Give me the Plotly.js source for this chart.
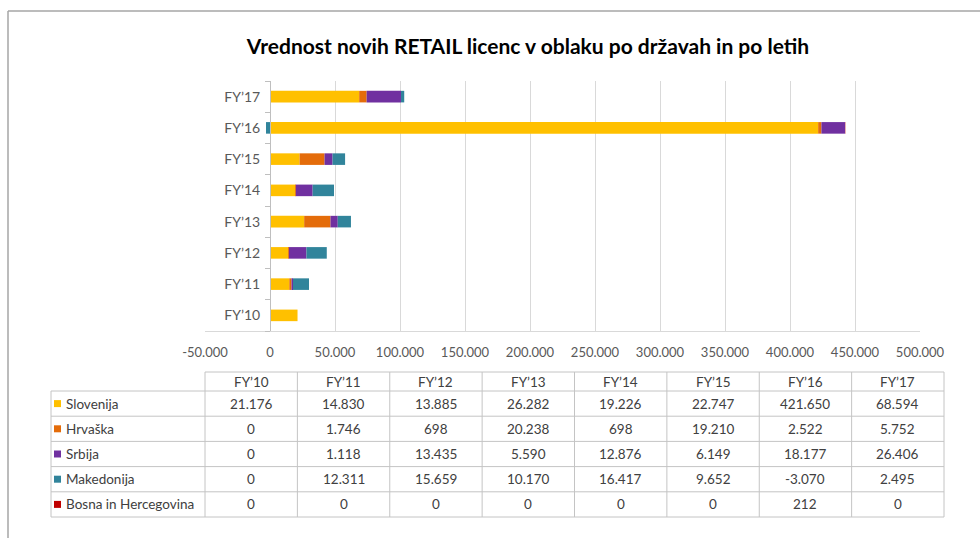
<!DOCTYPE html>
<html><head><meta charset="utf-8">
<script src="https://cdn.plot.ly/plotly-3.0.1.min.js"></script>
<style>html,body{margin:0;padding:0;background:#fff}#chart{width:980px;height:538px}</style>
</head><body><div id="chart"></div>
<script>
// ---- data ----
const categories = ["FY’10","FY’11","FY’12","FY’13","FY’14","FY’15","FY’16","FY’17"];
const seriesNames = ["Slovenija","Hrvaška","Srbija","Makedonija","Bosna in Hercegovina"];
const slovenija  = [21176,14830,13885,26282,19226,22747,421650,68594];
const hrvaska    = [0,1746,698,20238,698,19210,2522,5752];
const srbija     = [0,1118,13435,5590,12876,6149,18177,26406];
const makedonija = [0,12311,15659,10170,16417,9652,-3070,2495];
const bosna      = [0,0,0,0,0,0,212,0];
const xTickVals  = [-50000,0,50000,100000,150000,200000,250000,300000,350000,400000,450000,500000];
const xTickText  = ["-50.000","0","50.000","100.000","150.000","200.000","250.000","300.000","350.000","400.000","450.000","500.000"];
const titleText = "Vrednost novih RETAIL licenc v oblaku po državah in po letih";

// ---- styles ----
const seriesValues = [slovenija, hrvaska, srbija, makedonija, bosna];
const seriesColors = ["#FFC000","#E46C0A","#7030A0","#31849B","#C00000"];
const FONT = "Lato, 'Open Sans', sans-serif";
const TXT = "#404040";
const W = 980, H = 538;
const L = 205, R = 920, T = 81, B = 331;
const xMin = -50000, xMax = 500000;
const px = v => (v - L) / (R - L);
const py = v => (B - v) / (B - T);

function fmt(n){
  const s = Math.abs(n).toString().replace(/\B(?=(\d{3})+(?!\d))/g, ".");
  return (n < 0 ? "-" : "") + s;
}

const traces = seriesNames.map((name, i) => ({
  type: "bar", orientation: "h", name: name,
  y: categories, x: seriesValues[i],
  marker: {color: seriesColors[i], line: {width: 0}},
  hoverinfo: "x+name"
}));

// ---- data table (shapes + annotations) ----
const tLeft = 51, tFirst = 205, tRight = 944;
const colW = (tRight - tFirst) / categories.length;
const hTop = 372, rTop = 391, rowH = 25.2;
const tBottom = rTop + rowH * seriesNames.length;
const gridC = "#c4c4c4";
const TFS = 13.5;
const shapes = [];
const annotations = [];
function hline(y, x0, x1, c, w){ shapes.push({type:"line", xref:"paper", yref:"paper", x0:px(x0), x1:px(x1), y0:py(y), y1:py(y), line:{color:c||gridC, width:w||1}}); }
function vline(x, y0, y1, c, w){ shapes.push({type:"line", xref:"paper", yref:"paper", x0:px(x), x1:px(x), y0:py(y0), y1:py(y1), line:{color:c||gridC, width:w||1}}); }

hline(hTop, tFirst, tRight);
for (let r = 0; r <= seriesNames.length; r++) hline(rTop + r * rowH, tLeft, tRight);
vline(tLeft, rTop, tBottom);
for (let c = 0; c <= categories.length; c++) vline(tFirst + c * colW, hTop, tBottom);

categories.forEach((cat, c) => {
  annotations.push({xref:"paper", yref:"paper", x:px(tFirst + (c + 0.5) * colW), y:py((hTop + rTop) / 2),
    text: cat, showarrow:false, xanchor:"center", yanchor:"middle", font:{family:FONT, size:TFS, color:TXT}});
});
seriesNames.forEach((name, r) => {
  const yc = rTop + (r + 0.5) * rowH;
  shapes.push({type:"rect", xref:"paper", yref:"paper", x0:px(54), x1:px(61), y0:py(yc - 3.5), y1:py(yc + 3.5),
    fillcolor: seriesColors[r], line:{width:0}});
  annotations.push({xref:"paper", yref:"paper", x:px(64), y:py(yc), text:name, showarrow:false,
    xanchor:"left", yanchor:"middle", font:{family:FONT, size:TFS, color:TXT}});
  seriesValues[r].forEach((v, c) => {
    annotations.push({xref:"paper", yref:"paper", x:px(tFirst + (c + 0.5) * colW), y:py(yc), text:fmt(v),
      showarrow:false, xanchor:"center", yanchor:"middle", font:{family:FONT, size:TFS, color:TXT}});
  });
});

// outer chart border
shapes.push({type:"line", xref:"paper", yref:"paper", x0:px(8), x1:px(8), y0:py(H), y1:py(11), line:{color:"#a6a6a6", width:1.5}});
shapes.push({type:"line", xref:"paper", yref:"paper", x0:px(8), x1:px(W), y0:py(11), y1:py(11), line:{color:"#a6a6a6", width:1.5}});

const layout = {
  width: W, height: H,
  margin: {l: L, r: W - R, t: T, b: H - B, pad: 0},
  paper_bgcolor: "#fff", plot_bgcolor: "#fff",
  barmode: "relative", bargap: 0.63,
  showlegend: false,
  font: {family: FONT, color: "#595959"},
  title: {text: "<b>" + titleText + "</b>", x: 528 / W, xref: "container", xanchor: "center",
          y: 1 - 47 / H, yref: "container", yanchor: "middle",
          font: {family: FONT, size: 21, color: "#000"}},
  xaxis: {range: [xMin, xMax], tickvals: xTickVals, ticktext: xTickText,
          showgrid: true, gridcolor: "#d9d9d9", gridwidth: 1, zeroline: false,
          showline: true, linecolor: "#d9d9d9", linewidth: 1, ticks: "",
          tickfont: {family: FONT, size: 13, color: "#595959"}, ticklabelstandoff: 9, fixedrange: true},
  yaxis: {type: "category", anchor: "free", position: (0 - xMin) / (xMax - xMin),
          showline: true, linecolor: "#bfbfbf", linewidth: 1, showgrid: false, zeroline: false,
          ticks: "outside", tickson: "boundaries", ticklen: 5, tickcolor: "#bfbfbf",
          tickfont: {family: FONT, size: 14, color: "#595959"}, ticklabelstandoff: 7, fixedrange: true},
  shapes: shapes, annotations: annotations
};

Plotly.newPlot("chart", traces, layout, {displayModeBar: false, staticPlot: true});
</script></body></html>
